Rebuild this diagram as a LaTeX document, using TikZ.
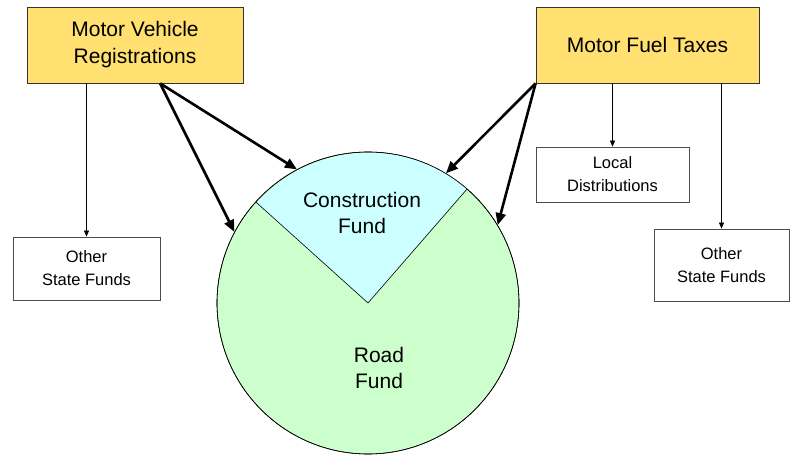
\documentclass[tikz,border=0pt]{standalone}
\usepackage{fontspec}
\setmainfont{Liberation Sans}
\usepackage{tikz}
\usetikzlibrary{arrows.meta,positioning,calc}
\definecolor{srcyellow}{HTML}{FFE070}
\definecolor{constcyan}{HTML}{CCFFFF}
\definecolor{roadgreen}{HTML}{CCFFCC}
\tikzset{
  fl/source/.style={draw=black!80, fill=srcyellow, line width=0.8pt, align=center, inner sep=0pt, font=\fontsize{21}{27}\selectfont},
  fl/dest/.style={draw=black!70, fill=white, line width=0.8pt, align=center, inner sep=0pt, font=\fontsize{16.5}{23}\selectfont},
  fl/label/.style={align=center, inner sep=0pt, font=\fontsize{21}{26}\selectfont},
  fl/fund/.style={draw=black, fill=roadgreen, circle, line width=0.6pt, inner sep=0pt, minimum size=302pt},
  fl/thin/.style={line width=0.7pt, -{Triangle[length=6pt, width=5pt]}},
  fl/thick/.style={line width=2.6pt, -{Triangle[length=12pt, width=10pt]}}
}

\begin{document}
\begin{tikzpicture}[x=1pt, y=1pt]
  \useasboundingbox (0,0) rectangle (790,455);
  \node[fl/source, minimum width=216pt, minimum height=76pt] (mvr) at (135,410) {Motor Vehicle\\Registrations};
  \node[fl/source, minimum width=223pt, minimum height=76pt] (mft) at (647.5,410) {Motor Fuel Taxes};
  \node[fl/dest, minimum width=147pt, minimum height=63pt] (osfL) at (86.5,186.5) {Other\\State Funds};
  \node[fl/dest, minimum width=153pt, minimum height=55pt] (local) at (612.5,280.5) {Local\\Distributions};
  \node[fl/dest, minimum width=135pt, minimum height=72pt] (osfR) at (721.5,190) {Other\\State Funds};

  \node[fl/fund] (fund) at (368,152) {};
  \fill[constcyan] (fund.center) -- (fund.49.6) arc[start angle=49.6, end angle=138.5, radius=151] -- cycle;
  \draw[line width=0.6pt] (fund.49.6) -- (fund.center) -- (fund.138.5);
  \draw[line width=0.6pt] (fund) circle[radius=151];
  \node[fl/label] (constr) at (362,242) {Construction\\Fund};
  \node[fl/label] (road) at (379,87) {Road\\Fund};

  \coordinate (mvrout) at ($(mvr.south west)!0.616!(mvr.south east)$);
  \coordinate (mftout) at (mft.south west);

  \draw[fl/thin] (mvr.south -| osfL.north) -- (osfL.north);
  \draw[fl/thin] (mft.south -| local.north) -- (local.north);
  \draw[fl/thin] (mft.south -| osfR.north) -- (osfR.north);

  \draw[fl/thick] (mvrout) -- (fund.118);
  \draw[fl/thick] (mvrout) -- (fund.152);
  \draw[fl/thick] (mftout) -- (fund.59);
  \draw[fl/thick] (mftout) -- (fund.31);
\end{tikzpicture}
\end{document}
